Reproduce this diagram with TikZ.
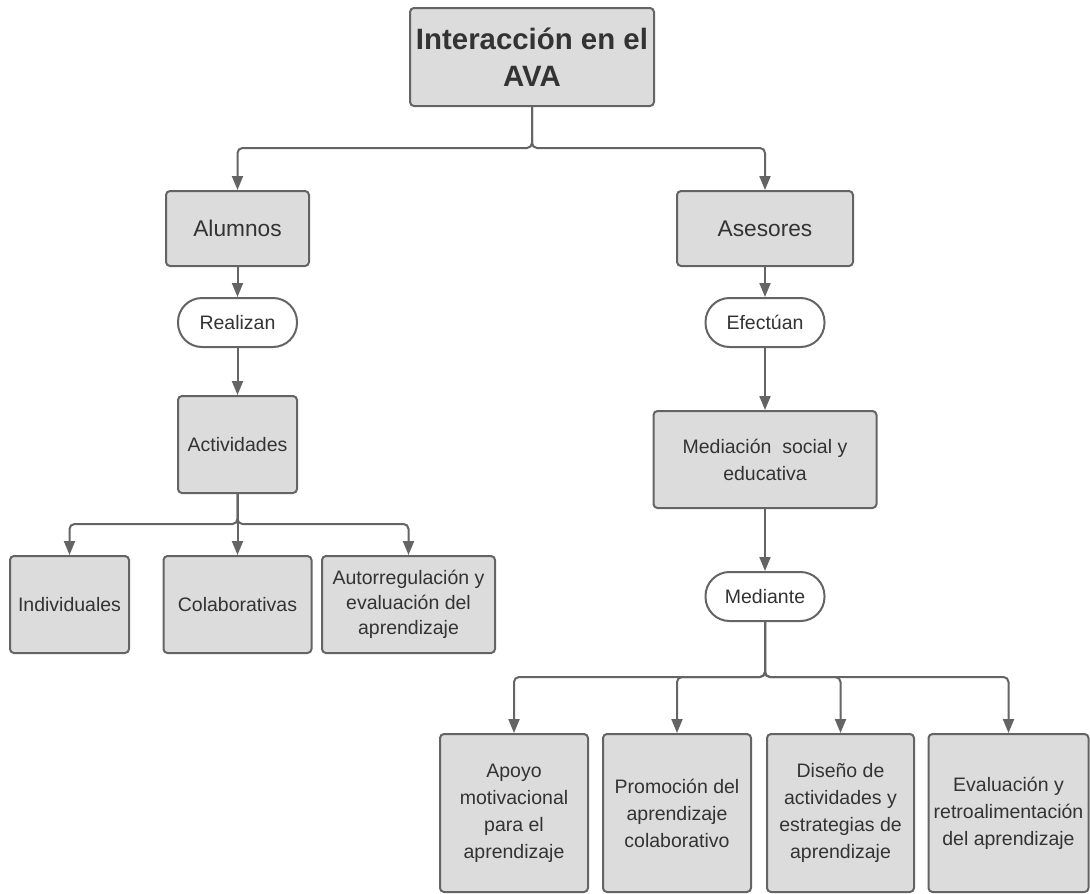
\documentclass[tikz,border=0pt]{standalone}
\usepackage{fontspec}
\setmainfont{Liberation Sans}
\usetikzlibrary{arrows.meta}
\definecolor{boxgray}{HTML}{DCDCDC}
\definecolor{linegray}{HTML}{646464}
\definecolor{textgray}{HTML}{333333}
\begin{document}
\begin{tikzpicture}[x=1pt,y=-1pt,
 box/.style={draw=linegray,line width=2pt,fill=boxgray,rounded corners=4pt,text=textgray,align=center,inner sep=0pt,font=\fontsize{19.5}{27}\selectfont},
 pill/.style={draw=linegray,line width=2pt,fill=white,rounded corners=24pt,text=textgray,inner sep=0pt,minimum width=119pt,minimum height=49pt,font=\fontsize{19.5}{27}\selectfont},
 arr/.style={draw=linegray,line width=2pt,rounded corners=5pt,-{Triangle[width=11pt,length=14pt]}}]
 \useasboundingbox (0,0) rectangle (1090,894);
 \node[box,minimum width=244pt,minimum height=98pt,font=\bfseries\fontsize{29.4}{37}\selectfont](title) at (532,57) {Interacción en el\\AVA};
 \node[box,minimum width=143pt,minimum height=75pt,font=\fontsize{22.7}{27}\selectfont](alumnos) at (237.5,228.5) {Alumnos};
 \node[box,minimum width=176pt,minimum height=75pt,font=\fontsize{22.7}{27}\selectfont](asesores) at (765,228.5) {Asesores};
 \node[pill](realizan) at (237.5,322.5) {Realizan};
 \node[pill](efectuan) at (765,322.5) {Efectúan};
 \node[box,minimum width=119pt,minimum height=97pt](actividades) at (237.5,444.5) {Actividades};
 \node[box,minimum width=223pt,minimum height=97pt](mediacion) at (765,459.5) {Mediación\ \ social y\\educativa};
 \node[pill](mediante) at (765,596.5) {Mediante};
 \node[box,minimum width=119pt,minimum height=97pt](individuales) at (69.5,604.5) {Individuales};
 \node[box,minimum width=148pt,minimum height=97pt](colaborativas) at (237.5,604.5) {Colaborativas};
 \node[box,minimum width=173pt,minimum height=97pt,font=\fontsize{19.5}{25}\selectfont](autorregulacion) at (408.5,604.5) {Autorregulación y\\evaluación del\\aprendizaje};
 \node[box,minimum width=148pt,minimum height=158pt](apoyo) at (514,813) {Apoyo\\motivacional\\para el\\aprendizaje};
 \node[box,minimum width=148pt,minimum height=158pt](promocion) at (677,813) {Promoción del\\aprendizaje\\colaborativo};
 \node[box,minimum width=147pt,minimum height=158pt](diseno) at (840.5,813) {Diseño de\\actividades y\\estrategias de\\aprendizaje};
 \node[box,minimum width=160pt,minimum height=158pt](evaluacion) at (1008.5,813) {Evaluación y\\retroalimentación\\del aprendizaje};
 \coordinate (jtop) at (532,148);
 \coordinate (jact) at (237.5,524);
 \coordinate (jmed) at (765,677);
 \foreach \t in {alumnos,asesores} \draw[arr] (title.south) -- (jtop) -| (\t);
 \draw[arr] (alumnos) -- (realizan);
 \draw[arr] (realizan) -- (actividades);
 \draw[arr] (asesores) -- (efectuan);
 \draw[arr] (efectuan) -- (mediacion);
 \draw[arr] (mediacion) -- (mediante);
 \foreach \t in {individuales,autorregulacion} \draw[arr] (actividades.south) -- (jact) -| (\t);
 \draw[arr] (actividades) -- (colaborativas);
 \foreach \t in {apoyo,promocion,diseno,evaluacion} \draw[arr] (mediante.south) -- (jmed) -| (\t);
\end{tikzpicture}
\end{document}
